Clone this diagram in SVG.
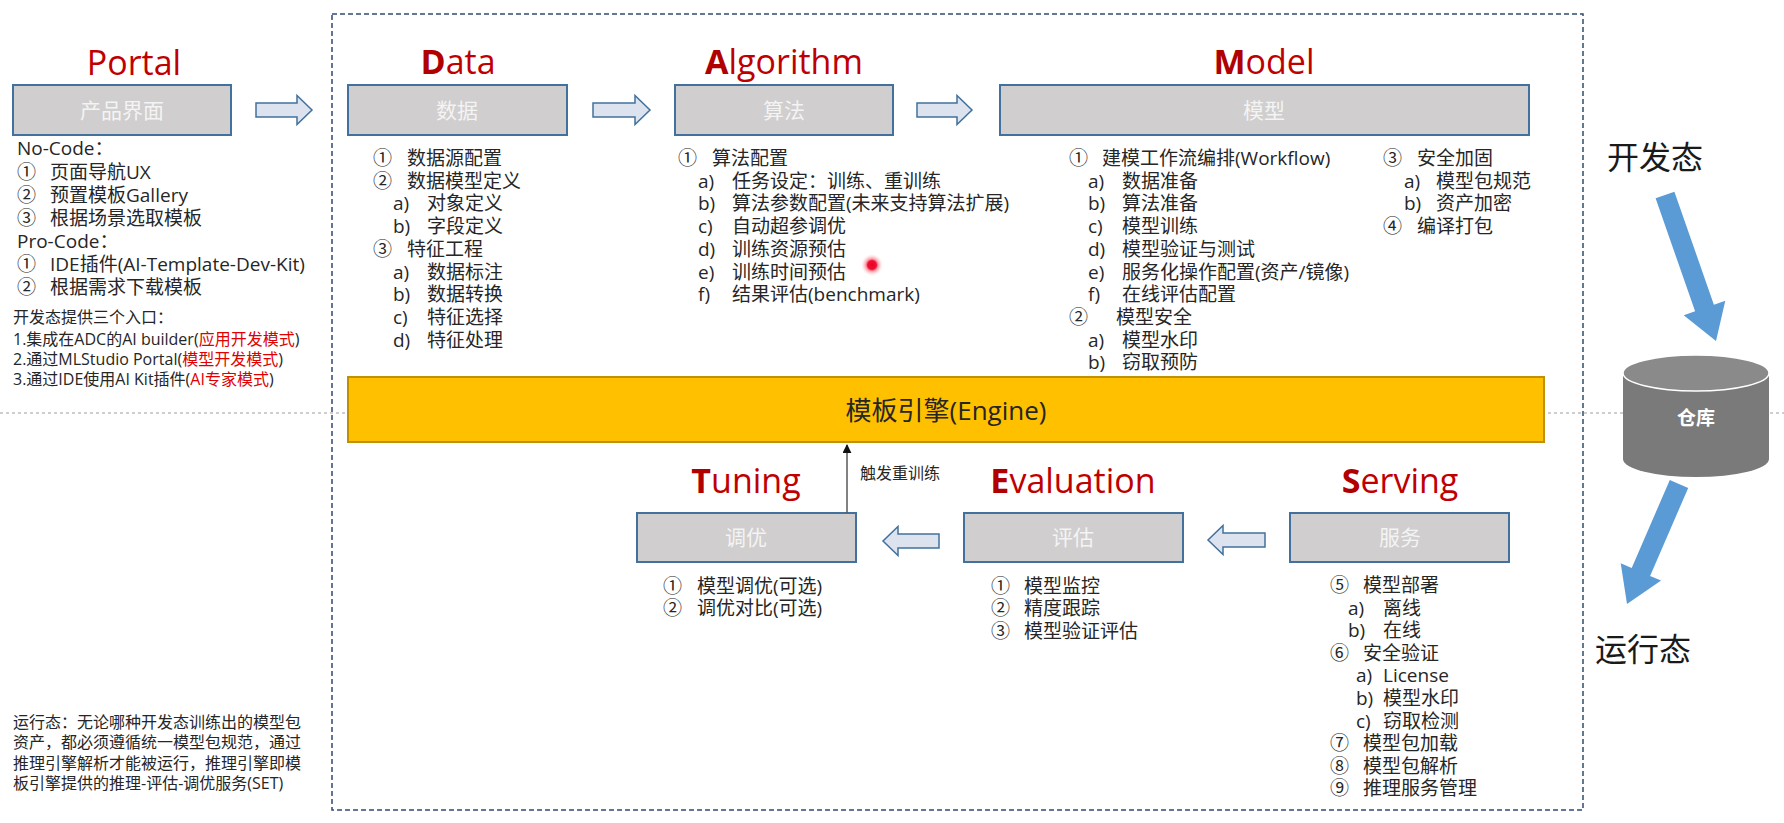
<svg xmlns="http://www.w3.org/2000/svg" width="1784" height="823" viewBox="0 0 1784 823">
<defs>
<style>
text{font-family:"Open Sans","Noto Sans CJK SC",sans-serif;}
.title{font-size:34px;fill:#C00000;text-anchor:middle}
.title .b{font-weight:bold;fill:#B00000}
.box{fill:#D0CECE;stroke:#41719C;stroke-width:2}
.boxt{font-size:21px;fill:#F4F4F4;text-anchor:middle}
.li{font-size:19px;fill:#262626}
.note{font-size:16px;fill:#262626}
.red{fill:#E00000}
.barrow{fill:#DCE3EE;stroke:#41719C;stroke-width:1.5}
.blue{fill:#5B9BD5}
.state{font-size:32px;fill:#1A1A1A}
</style>
<marker id="ah" viewBox="0 0 10 10" refX="9" refY="5" markerWidth="9" markerHeight="9" markerUnits="userSpaceOnUse" orient="auto">
<path d="M0,0 L10,5 L0,10 Z" fill="#111"/>
</marker>
<radialGradient id="dot">
<stop offset="0" stop-color="#E8002A"/>
<stop offset="0.4" stop-color="#F01030"/>
<stop offset="0.55" stop-color="#F86A7A" stop-opacity="0.7"/>
<stop offset="1" stop-color="#FFD0D6" stop-opacity="0"/>
</radialGradient>
</defs>
<rect width="1784" height="823" fill="#FFFFFF"/>

<g id="frames">
<line x1="0" y1="413" x2="1784" y2="413" stroke="#BFBFBF" stroke-width="1.5" stroke-dasharray="3,3"/>
<rect x="332" y="14" width="1251" height="796" fill="none" stroke="#2F4A73" stroke-width="1.5" stroke-dasharray="5,3"/>
</g>

<g id="portal">
<text class="title" x="134" y="75">Portal</text>
<rect class="box" x="13" y="85" width="218" height="50"/>
<text class="boxt" x="122" y="118">产品界面</text>
<text class="li" x="17" y="155">No-Code：</text>
<text class="li" x="17" y="179">①</text><text class="li" x="50" y="179">页面导航UX</text>
<text class="li" x="17" y="202">②</text><text class="li" x="50" y="202">预置模板Gallery</text>
<text class="li" x="17" y="225">③</text><text class="li" x="50" y="225">根据场景选取模板</text>
<text class="li" x="17" y="248">Pro-Code：</text>
<text class="li" x="17" y="271">①</text><text class="li" x="50" y="271">IDE插件(AI-Template-Dev-Kit)</text>
<text class="li" x="17" y="294">②</text><text class="li" x="50" y="294">根据需求下载模板</text>
<text class="note" x="13" y="323">开发态提供三个入口：</text>
<text class="note" x="13" y="345">1.集成在ADC的AI builder(<tspan class="red">应用开发模式</tspan>)</text>
<text class="note" x="13" y="365">2.通过MLStudio Portal(<tspan class="red">模型开发模式</tspan>)</text>
<text class="note" x="13" y="385">3.通过IDE使用AI Kit插件(<tspan class="red">AI专家模式</tspan>)</text>
</g>

<g id="runtime-note">
<text class="note" x="13" y="728">运行态：无论哪种开发态训练出的模型包</text>
<text class="note" x="13" y="748">资产，都必须遵循统一模型包规范，通过</text>
<text class="note" x="13" y="769">推理引擎解析才能被运行，推理引擎即模</text>
<text class="note" x="13" y="789">板引擎提供的推理-评估-调优服务(SET)</text>
</g>

<g id="data">
<text class="title" x="458" y="74"><tspan class="b">D</tspan>ata</text>
<rect class="box" x="348" y="85" width="219" height="50"/>
<text class="boxt" x="457" y="118">数据</text>
<text class="li" x="373" y="165">①</text><text class="li" x="407" y="165">数据源配置</text>
<text class="li" x="373" y="188">②</text><text class="li" x="407" y="188">数据模型定义</text>
<text class="li" x="393" y="210">a)</text><text class="li" x="427" y="210">对象定义</text>
<text class="li" x="393" y="233">b)</text><text class="li" x="427" y="233">字段定义</text>
<text class="li" x="373" y="256">③</text><text class="li" x="407" y="256">特征工程</text>
<text class="li" x="393" y="279">a)</text><text class="li" x="427" y="279">数据标注</text>
<text class="li" x="393" y="301">b)</text><text class="li" x="427" y="301">数据转换</text>
<text class="li" x="393" y="324">c)</text><text class="li" x="427" y="324">特征选择</text>
<text class="li" x="393" y="347">d)</text><text class="li" x="427" y="347">特征处理</text>
</g>

<g id="algorithm">
<text class="title" x="784" y="74"><tspan class="b">A</tspan>lgorithm</text>
<rect class="box" x="675" y="85" width="218" height="50"/>
<text class="boxt" x="784" y="118">算法</text>
<text class="li" x="678" y="165">①</text><text class="li" x="712" y="165">算法配置</text>
<text class="li" x="698" y="188">a)</text><text class="li" x="732" y="188">任务设定：训练、重训练</text>
<text class="li" x="698" y="210">b)</text><text class="li" x="732" y="210">算法参数配置(未来支持算法扩展)</text>
<text class="li" x="698" y="233">c)</text><text class="li" x="732" y="233">自动超参调优</text>
<text class="li" x="698" y="256">d)</text><text class="li" x="732" y="256">训练资源预估</text>
<text class="li" x="698" y="279">e)</text><text class="li" x="732" y="279">训练时间预估</text>
<text class="li" x="698" y="301">f)</text><text class="li" x="732" y="301">结果评估(benchmark)</text>
<circle cx="872" cy="265" r="11" fill="url(#dot)"/>
</g>

<g id="model">
<text class="title" x="1264" y="74"><tspan class="b">M</tspan>odel</text>
<rect class="box" x="1000" y="85" width="529" height="50"/>
<text class="boxt" x="1264" y="118">模型</text>
<text class="li" x="1069" y="165">①</text><text class="li" x="1102" y="165">建模工作流编排(Workflow)</text>
<text class="li" x="1088" y="188">a)</text><text class="li" x="1122" y="188">数据准备</text>
<text class="li" x="1088" y="210">b)</text><text class="li" x="1122" y="210">算法准备</text>
<text class="li" x="1088" y="233">c)</text><text class="li" x="1122" y="233">模型训练</text>
<text class="li" x="1088" y="256">d)</text><text class="li" x="1122" y="256">模型验证与测试</text>
<text class="li" x="1088" y="279">e)</text><text class="li" x="1122" y="279">服务化操作配置(资产/镜像)</text>
<text class="li" x="1088" y="301">f)</text><text class="li" x="1122" y="301">在线评估配置</text>
<text class="li" x="1069" y="324">②</text><text class="li" x="1116" y="324">模型安全</text>
<text class="li" x="1088" y="347">a)</text><text class="li" x="1122" y="347">模型水印</text>
<text class="li" x="1088" y="369">b)</text><text class="li" x="1122" y="369">窃取预防</text>
<text class="li" x="1383" y="165">③</text><text class="li" x="1417" y="165">安全加固</text>
<text class="li" x="1404" y="188">a)</text><text class="li" x="1436" y="188">模型包规范</text>
<text class="li" x="1404" y="210">b)</text><text class="li" x="1436" y="210">资产加密</text>
<text class="li" x="1383" y="233">④</text><text class="li" x="1417" y="233">编译打包</text>
</g>

<g id="engine">
<rect x="348" y="377" width="1196" height="65" fill="#FFC000" stroke="#BF9000" stroke-width="2"/>
<text x="946" y="420" font-size="26" fill="#262626" text-anchor="middle">模板引擎(Engine)</text>
</g>

<g id="tuning">
<text class="title" x="746" y="493"><tspan class="b">T</tspan>uning</text>
<rect class="box" x="637" y="513" width="219" height="49"/>
<text class="boxt" x="746" y="545">调优</text>
<text class="li" x="663" y="593">①</text><text class="li" x="697" y="593">模型调优(可选)</text>
<text class="li" x="663" y="615">②</text><text class="li" x="697" y="615">调优对比(可选)</text>
</g>

<g id="evaluation">
<text class="title" x="1073" y="493"><tspan class="b">E</tspan>valuation</text>
<rect class="box" x="964" y="513" width="219" height="49"/>
<text class="boxt" x="1073" y="545">评估</text>
<text class="li" x="991" y="593">①</text><text class="li" x="1024" y="593">模型监控</text>
<text class="li" x="991" y="615">②</text><text class="li" x="1024" y="615">精度跟踪</text>
<text class="li" x="991" y="638">③</text><text class="li" x="1024" y="638">模型验证评估</text>
</g>

<g id="serving">
<text class="title" x="1400" y="493"><tspan class="b">S</tspan>erving</text>
<rect class="box" x="1290" y="513" width="219" height="49"/>
<text class="boxt" x="1400" y="545">服务</text>
<text class="li" x="1330" y="592">⑤</text><text class="li" x="1363" y="592">模型部署</text>
<text class="li" x="1348" y="615">a)</text><text class="li" x="1383" y="615">离线</text>
<text class="li" x="1348" y="637">b)</text><text class="li" x="1383" y="637">在线</text>
<text class="li" x="1330" y="660">⑥</text><text class="li" x="1363" y="660">安全验证</text>
<text class="li" x="1356" y="682">a)</text><text class="li" x="1383" y="682">License</text>
<text class="li" x="1356" y="705">b)</text><text class="li" x="1383" y="705">模型水印</text>
<text class="li" x="1356" y="728">c)</text><text class="li" x="1383" y="728">窃取检测</text>
<text class="li" x="1330" y="750">⑦</text><text class="li" x="1363" y="750">模型包加载</text>
<text class="li" x="1330" y="773">⑧</text><text class="li" x="1363" y="773">模型包解析</text>
<text class="li" x="1330" y="795">⑨</text><text class="li" x="1363" y="795">推理服务管理</text>
</g>

<g id="repository">
<path d="M1623,373 L1623,459 A73,18 0 0 0 1769,459 L1769,373 Z" fill="#7A7A7A"/>
<ellipse cx="1696" cy="373" rx="73" ry="18" fill="#8A8A8A" stroke="#FFFFFF" stroke-width="1.5"/>
<text x="1696" y="425" font-size="19" font-weight="bold" fill="#FFFFFF" text-anchor="middle">仓库</text>
</g>

<g id="states">
<text class="state" x="1607" y="169">开发态</text>
<text class="state" x="1595" y="661">运行态</text>
</g>

<g id="connectors">
<path class="barrow" d="M256,103 L297,103 L297,95.5 L312,110 L297,124.5 L297,117 L256,117 Z"/>
<path class="barrow" d="M593,103 L635,103 L635,95.5 L650,110 L635,124.5 L635,117 L593,117 Z"/>
<path class="barrow" d="M917,103 L957,103 L957,95.5 L972,110 L957,124.5 L957,117 L917,117 Z"/>
<path class="barrow" d="M939,534 L898,534 L898,526.5 L883,541 L898,555.5 L898,548 L939,548 Z"/>
<path class="barrow" d="M1265,533 L1223,533 L1223,525.5 L1208,540 L1223,554.5 L1223,547 L1265,547 Z"/>
<line x1="847" y1="513" x2="847" y2="445" stroke="#595959" stroke-width="1.5" marker-end="url(#ah)"/>
<text x="860" y="479" font-size="16" fill="#262626">触发重训练</text>
<polygon class="blue" points="1655.6,198.3 1674.4,191.7 1713.9,304.7 1725.3,300.7 1716,341 1683.7,315.3 1695.1,311.3"/>
<polygon class="blue" points="1669.8,480 1688.2,488 1650.1,575.9 1661.1,580.6 1627,604 1620.7,563.2 1631.7,567.9"/>
</g>
</svg>
